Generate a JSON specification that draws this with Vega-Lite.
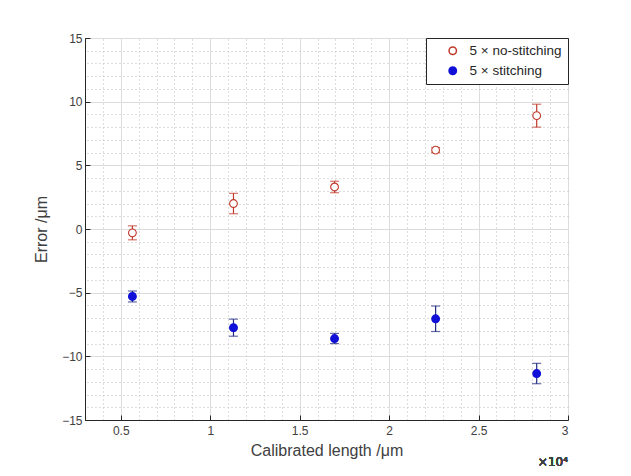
{
  "$schema": "https://vega.github.io/schema/vega-lite/v6.json",
  "width": 483,
  "height": 382,
  "autosize": "none",
  "padding": {"left": 85, "top": 38, "right": 63, "bottom": 56},
  "background": "white",
  "config": {
    "font": "Liberation Sans",
    "view": {"stroke": "#262626", "strokeWidth": 1},
    "legend": {
      "orient": "top-right", "offset": 0, "padding": 6, "strokeColor": "#262626",
      "fillColor": "white", "labelFontSize": 13.5, "labelColor": "#262626",
      "symbolSize": 55, "rowPadding": 5, "labelLimit": 200,
      "symbolOffset": 14, "labelOffset": 10
    }
  },
  "data": {
    "values": [
      {"series": "5 × no-stitching", "length": 5650, "error": -0.3, "unc": 0.55},
      {"series": "5 × no-stitching", "length": 11300, "error": 2.0, "unc": 0.8},
      {"series": "5 × no-stitching", "length": 16950, "error": 3.3, "unc": 0.45},
      {"series": "5 × no-stitching", "length": 22600, "error": 6.2, "unc": 0.2},
      {"series": "5 × no-stitching", "length": 28250, "error": 8.9, "unc": 0.9},
      {"series": "5 × stitching", "length": 5650, "error": -5.3, "unc": 0.43},
      {"series": "5 × stitching", "length": 11300, "error": -7.75, "unc": 0.67},
      {"series": "5 × stitching", "length": 16950, "error": -8.6, "unc": 0.4},
      {"series": "5 × stitching", "length": 22600, "error": -7.05, "unc": 1.0},
      {"series": "5 × stitching", "length": 28250, "error": -11.35, "unc": 0.8}
    ]
  },
  "layer": [
    {
      "transform": [{"filter": "datum.series == '5 × no-stitching'"}],
      "mark": {"type": "errorbar", "ticks": {"size": 9}, "thickness": 1.2, "color": "#c0392b"},
      "encoding": {
        "x": {
          "field": "length", "type": "quantitative",
          "scale": {"domain": [3000, 30000], "nice": false, "zero": false},
          "axis": {
            "orient": "bottom", "values": [5000, 10000, 15000, 20000, 25000, 30000],
            "labelExpr": "datum.value/10000", "grid": true, "gridColor": "#dcdcdc",
            "tickSize": -5, "tickColor": "#262626", "domainColor": "#262626",
            "labelFontSize": 12, "labelColor": "#404040", "labelPadding": 10,
            "title": "Calibrated length /μm", "titleFontSize": 16, "titleFontWeight": "normal",
            "titleColor": "#404040", "titlePadding": 6
          }
        },
        "y": {
          "field": "error", "type": "quantitative",
          "scale": {"domain": [-15, 15], "nice": false, "zero": false},
          "axis": {
            "orient": "left", "values": [-15, -10, -5, 0, 5, 10, 15],
            "grid": true, "gridColor": "#dcdcdc",
            "tickSize": -5, "tickColor": "#262626", "domainColor": "#262626",
            "labelFontSize": 12, "labelColor": "#404040", "labelPadding": 8,
            "title": "Error /μm", "titleFontSize": 16, "titleFontWeight": "normal",
            "titleColor": "#404040", "titlePadding": 12
          }
        },
        "yError": {"field": "unc"}
      }
    },
    {
      "transform": [{"filter": "datum.series == '5 × stitching'"}],
      "mark": {"type": "errorbar", "ticks": {"size": 9}, "thickness": 1.2, "color": "#202a80"},
      "encoding": {
        "x": {"field": "length", "type": "quantitative", "axis": null},
        "y": {"field": "error", "type": "quantitative", "axis": null},
        "yError": {"field": "unc"}
      }
    },
    {
      "mark": {"type": "point", "size": 60, "strokeWidth": 1.1, "opacity": 1},
      "encoding": {
        "x": {
          "field": "length", "type": "quantitative",
          "axis": {
            "orient": "top",
            "values": [4000, 6000, 7000, 8000, 9000, 11000, 12000, 13000, 14000, 16000, 17000, 18000, 19000, 21000, 22000, 23000, 24000, 26000, 27000, 28000, 29000],
            "grid": true, "gridDash": [1, 3], "gridColor": "#bdbdbd",
            "ticks": false, "labels": false, "domain": false, "title": null
          }
        },
        "y": {
          "field": "error", "type": "quantitative",
          "axis": {
            "orient": "right",
            "values": [-14, -13, -12, -11, -9, -8, -7, -6, -4, -3, -2, -1, 1, 2, 3, 4, 6, 7, 8, 9, 11, 12, 13, 14],
            "grid": true, "gridDash": [1, 3], "gridColor": "#bdbdbd",
            "ticks": false, "labels": false, "domain": false, "title": null
          }
        },
        "stroke": {
          "field": "series", "type": "nominal",
          "scale": {"domain": ["5 × no-stitching", "5 × stitching"], "range": ["#c0392b", "#1010d8"]},
          "legend": {"title": null}
        },
        "fill": {
          "field": "series", "type": "nominal",
          "scale": {"domain": ["5 × no-stitching", "5 × stitching"], "range": ["white", "#1010d8"]},
          "legend": {"title": null}
        }
      }
    },
    {
      "mark": {"type": "text", "align": "right", "baseline": "middle", "dy": 42, "fontSize": 12, "font": "DejaVu Sans", "color": "#404040"},
      "encoding": {
        "x": {"datum": 30000, "type": "quantitative", "axis": null},
        "y": {"datum": -15, "type": "quantitative", "axis": null},
        "text": {"value": "×10⁴"}
      }
    }
  ],
  "resolve": {"axis": {"x": "independent", "y": "independent"}}
}
